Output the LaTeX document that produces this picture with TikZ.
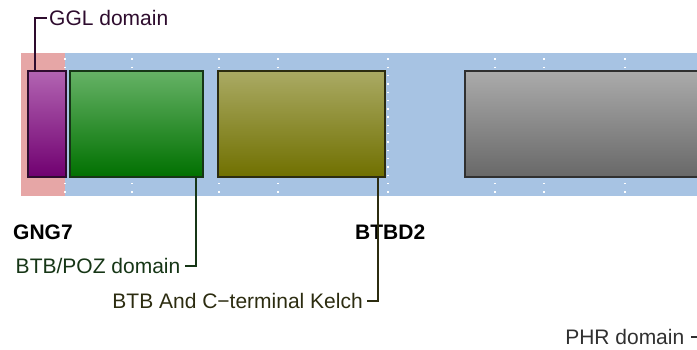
\documentclass[tikz,border=0pt]{standalone}
\usepackage{fontspec}
\setmainfont{Liberation Sans}
\definecolor{bgpink}{HTML}{E6A6A6}
\definecolor{bgblue}{HTML}{A7C3E3}
\definecolor{purtop}{HTML}{B264B2}
\definecolor{purbot}{HTML}{700070}
\definecolor{purline}{HTML}{2E0C2E}
\definecolor{grntop}{HTML}{66B266}
\definecolor{grnbot}{HTML}{007000}
\definecolor{grnline}{HTML}{163616}
\definecolor{olvtop}{HTML}{AAAA64}
\definecolor{olvbot}{HTML}{707000}
\definecolor{olvline}{HTML}{2C2C10}
\definecolor{grytop}{HTML}{ABABAB}
\definecolor{grybot}{HTML}{686868}
\definecolor{gryline}{HTML}{303030}
\tikzset{
  domainbox/.style={rectangle, draw, line width=2pt, anchor=north west, inner sep=0pt, outer sep=0pt},
  gridline/.style={white, line width=1.4pt, dash pattern=on 1.4pt off 6.9pt},
  conn/.style={line width=2pt},
  lbl/.style={inner sep=0pt, font=\fontsize{21}{25}\selectfont},
  gene/.style={inner sep=0pt, anchor=west, font=\fontsize{21}{25}\selectfont\bfseries}
}
\begin{document}
\begin{tikzpicture}[x=1pt, y=-1pt]
\useasboundingbox (0,0) rectangle (697,349);
\clip (0,0) rectangle (697,349);
% backgrounds
\fill[bgpink] (21,53) rectangle (65,196);
\fill[bgblue] (65,53) rectangle (697,196);
% dotted grid
\foreach \gx in {65,132,219,278,388,495,544,625}
  \draw[gridline] (\gx,58.3) -- (\gx,194);
% domain boxes
\node[domainbox, draw=purline, top color=purtop, bottom color=purbot,
      minimum width=37.5pt, minimum height=106pt] (ggl) at (28,71) {};
\node[domainbox, draw=grnline, top color=grntop, bottom color=grnbot,
      minimum width=132.5pt, minimum height=106pt] (btbpoz) at (70,71) {};
\node[domainbox, draw=olvline, top color=olvtop, bottom color=olvbot,
      minimum width=166.2pt, minimum height=106pt] (kelch) at (218.3,71) {};
\node[domainbox, draw=gryline, top color=grytop, bottom color=grybot,
      minimum width=300pt, minimum height=106pt] (phr) at (464.7,71) {};
% gene names
\node[gene] (gng7) at (13,232) {GNG7};
\node[gene] (btbd2) at (355,232) {BTBD2};
% labels
\node[lbl, anchor=west, text=purline] (gglL) at (49,17.5) {GGL domain};
\node[lbl, anchor=east, text=grnline] (btbpozL) at (180.5,266.3) {BTB/POZ domain};
\node[lbl, anchor=east, text=olvline] (kelchL) at (363,301) {BTB And C−terminal Kelch};
\node[lbl, anchor=east, text=gryline] (phrL) at (684.5,337) {PHR domain};
% connectors
\coordinate (gglP) at (35,71);
\coordinate (btbpozP) at (195.8,177);
\coordinate (kelchP) at (377.7,177);
\coordinate (phrP) at (710,177);
\draw[conn, purline] (gglP) |- ([xshift=-2pt]gglL.west);
\draw[conn, grnline] (btbpozP) |- ([xshift=4.5pt]btbpozL.east);
\draw[conn, olvline] (kelchP) |- ([xshift=4pt]kelchL.east);
\draw[conn, gryline] (phrP) |- ([xshift=6pt]phrL.east);
\end{tikzpicture}
\end{document}
